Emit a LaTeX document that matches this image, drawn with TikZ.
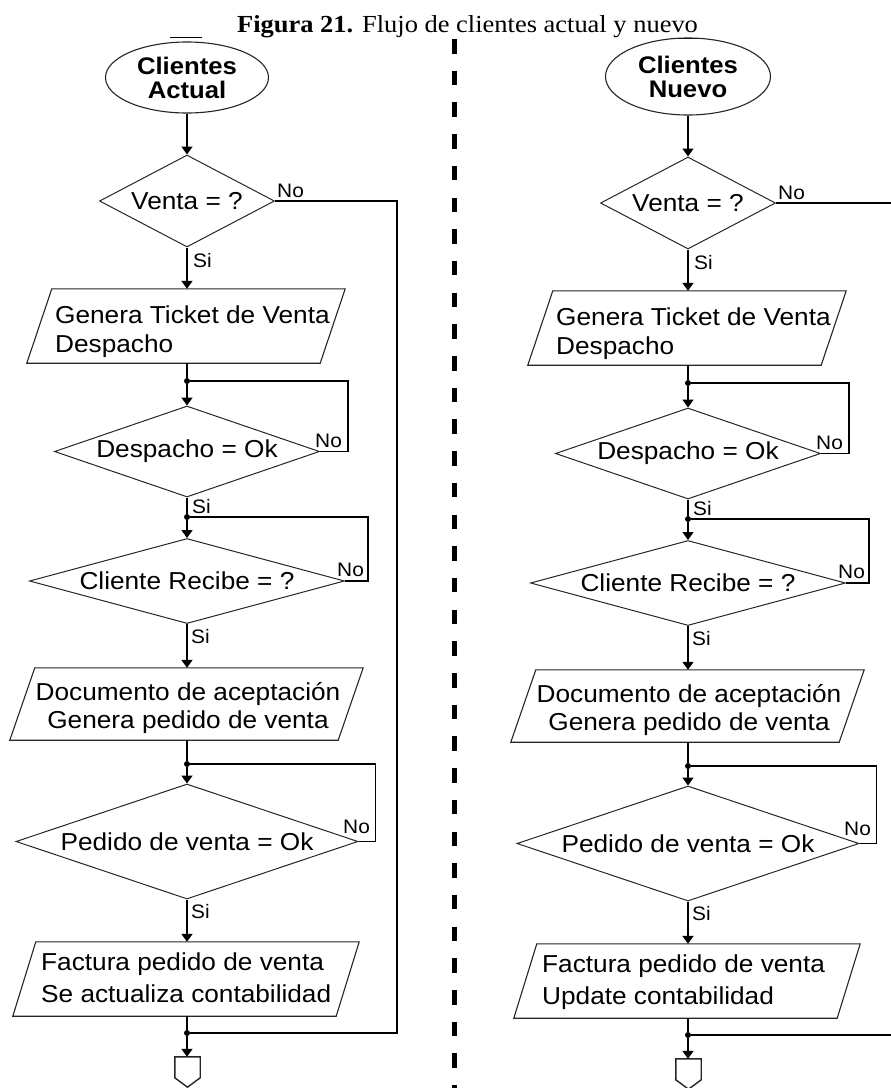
\documentclass[tikz,border=0pt]{standalone}
\usepackage{fontspec}
\setmainfont{Liberation Serif}
\newfontfamily\chartfont[FakeStretch=1.07]{Liberation Sans}
\newfontfamily\titlefont[FakeStretch=1.08]{Liberation Serif}
\usetikzlibrary{shapes.geometric,arrows.meta,calc}
\tikzset{
  conn/.style={line width=1.7pt, draw=black},
  arr/.style={conn, -{Triangle[length=8pt,width=11pt]}},
  shapeline/.style={line width=1.1pt, draw=black!85},
  dec/.style={diamond, draw=black!85, line width=1pt, inner sep=0pt, font=\chartfont\fontsize{24.5}{29}\selectfont},
  term/.style={ellipse, draw=black!85, line width=1.1pt, inner sep=0pt, minimum width=163pt, align=center, font=\chartfont\bfseries\fontsize{24}{24}\selectfont},
  parabox/.style={rectangle, inner sep=0pt, minimum height=74pt},
  ptxt/.style={inner sep=0pt, font=\chartfont\fontsize{24.5}{29}\selectfont},
  lbl/.style={inner sep=0pt, anchor=base west, font=\chartfont\fontsize{19.5}{20}\selectfont},
  jdot/.style={circle, fill=black, inner sep=0pt, minimum size=6pt},
}
\newcommand\flowchart[3]{%
\begin{scope}[shift={#2}]
  \node[dec, minimum width=175pt, minimum height=92pt, aspect=1.9] (#1d1) at (187,201) {Venta = ?};
  \node[parabox, minimum width=318pt] (#1p1) at (186,326) {};
  \node[ptxt, anchor=base west, align=left] (#1t1) at (55,352) {Genera Ticket de Venta\\Despacho};
  \node[jdot] (#1j1) at (187,381) {};
  \node[dec, minimum width=265pt, minimum height=91pt, aspect=2.9] (#1d2) at (187,451.5) {Despacho = Ok};
  \node[jdot] (#1j2) at (187,517) {};
  \node[dec, minimum width=315pt, minimum height=85pt, aspect=3.7] (#1d3) at (187,581) {Cliente Recibe = ?};
  \node[parabox, minimum width=353pt, minimum height=72pt] (#1p2) at (186.5,704) {};
  \node[ptxt, anchor=base, align=center, font=\chartfont\fontsize{24.5}{28}\selectfont] (#1t2) at (188,728) {Documento de aceptación\\Genera pedido de venta};
  \node[jdot] (#1j3) at (187,764) {};
  \node[dec, minimum width=342pt, minimum height=115pt, aspect=3] (#1d4) at (187,841.5) {Pedido de venta = Ok};
  \node[parabox, minimum width=346pt] (#1p3) at (186,979) {};
  \node[ptxt, anchor=base west, align=left, font=\chartfont\fontsize{24.5}{32}\selectfont] (#1t3) at (41,1002) {Factura pedido de venta\\#3};
  \node[jdot] (#1j4) at (187,1033) {};
  \node[minimum width=25pt, minimum height=30pt, inner sep=0pt] (#1end) at (187.5,1072) {};
  % parallelograms and off-page connector
  \draw[shapeline] ($(#1p1.north west)+(25,0)$) -- (#1p1.north east) -- ($(#1p1.south east)+(-25,0)$) -- (#1p1.south west) -- cycle;
  \draw[shapeline] ($(#1p2.north west)+(25,0)$) -- (#1p2.north east) -- ($(#1p2.south east)+(-25,0)$) -- (#1p2.south west) -- cycle;
  \draw[shapeline] ($(#1p3.north west)+(23,0)$) -- (#1p3.north east) -- ($(#1p3.south east)+(-23,0)$) -- (#1p3.south west) -- cycle;
  \draw[shapeline, line width=1.4pt] (#1end.north west) -- (#1end.north east) -- ($(#1end.north east)+(0,21)$) -- (#1end.south) -- ($(#1end.north west)+(0,21)$) -- cycle;
  % connectors
  \draw[arr] (#1d1.south) -- (#1d1.south |- #1p1.north);
  \draw[conn] (#1d1.east) -- ++(122,0) |- (#1j4);
  \draw[conn] (#1p1.south -| #1j1) -- (#1j1);
  \draw[arr] (#1j1) -- (#1d2.north);
  \draw[conn] (#1d2.east) -- ++(28,0) |- (#1j1);
  \draw[conn] (#1d2.south) -- (#1j2);
  \draw[arr] (#1j2) -- (#1d3.north);
  \draw[conn] (#1d3.east) -- ++(23,0) |- (#1j2);
  \draw[arr] (#1d3.south) -- (#1d3.south |- #1p2.north);
  \draw[conn] (#1p2.south -| #1j3) -- (#1j3);
  \draw[arr] (#1j3) -- (#1d4.north);
  \draw[conn] (#1d4.east) -- ++(17,0) |- (#1j3);
  \draw[arr] (#1d4.south) -- (#1d4.south |- #1p3.north);
  \draw[conn] (#1p3.south -| #1j4) -- (#1j4);
  \draw[arr] (#1j4) -- (#1j4 |- #1end.north);
  % labels
  \node[lbl] (#1no1) at (277,197) {No};
  \node[lbl] (#1si1) at (193,267) {Si};
  \node[lbl] (#1no2) at (315,447) {No};
  \node[lbl] (#1si2) at (192,513) {Si};
  \node[lbl] (#1no3) at (337,576) {No};
  \node[lbl] (#1si3) at (191,643) {Si};
  \node[lbl] (#1no4) at (343,833) {No};
  \node[lbl] (#1si4) at (191,918) {Si};
\end{scope}}
\begin{document}
\begin{tikzpicture}[x=1pt,y=-1pt]
  \useasboundingbox (0,0) rectangle (891,1088);
  \fill[white] (0,0) rectangle (891,1088);
  \clip (0,0) rectangle (891,1088);
  % title
  \node[anchor=base west, inner sep=0pt] (title) at (237,32)
    {\titlefont\fontsize{24.5}{28}\selectfont\textbf{Figura 21.} Flujo de clientes actual y nuevo};
  \draw[line width=1pt] (170,37) -- (202,37);
  \draw[line width=1pt] (672,38) -- (705,38);
  % divider
  \draw[line width=5pt, dash pattern=on 14.5pt off 17.2pt] (454.5,39) -- (454.5,1100);
  % start terminals
  \node[term, minimum height=71pt] (Le) at (187,77.5) {Clientes\\Actual};
  \node[term, minimum height=77pt, minimum width=165pt] (Re) at (688,76.5) {Clientes\\Nuevo};
  \flowchart{L}{(0,0)}{Se actualiza contabilidad}
  \flowchart{R}{(501,2)}{Update contabilidad}
  \draw[arr] (Le.south) -- (Ld1.north);
  \draw[arr] (Re.south) -- (Rd1.north);
\end{tikzpicture}
\end{document}
